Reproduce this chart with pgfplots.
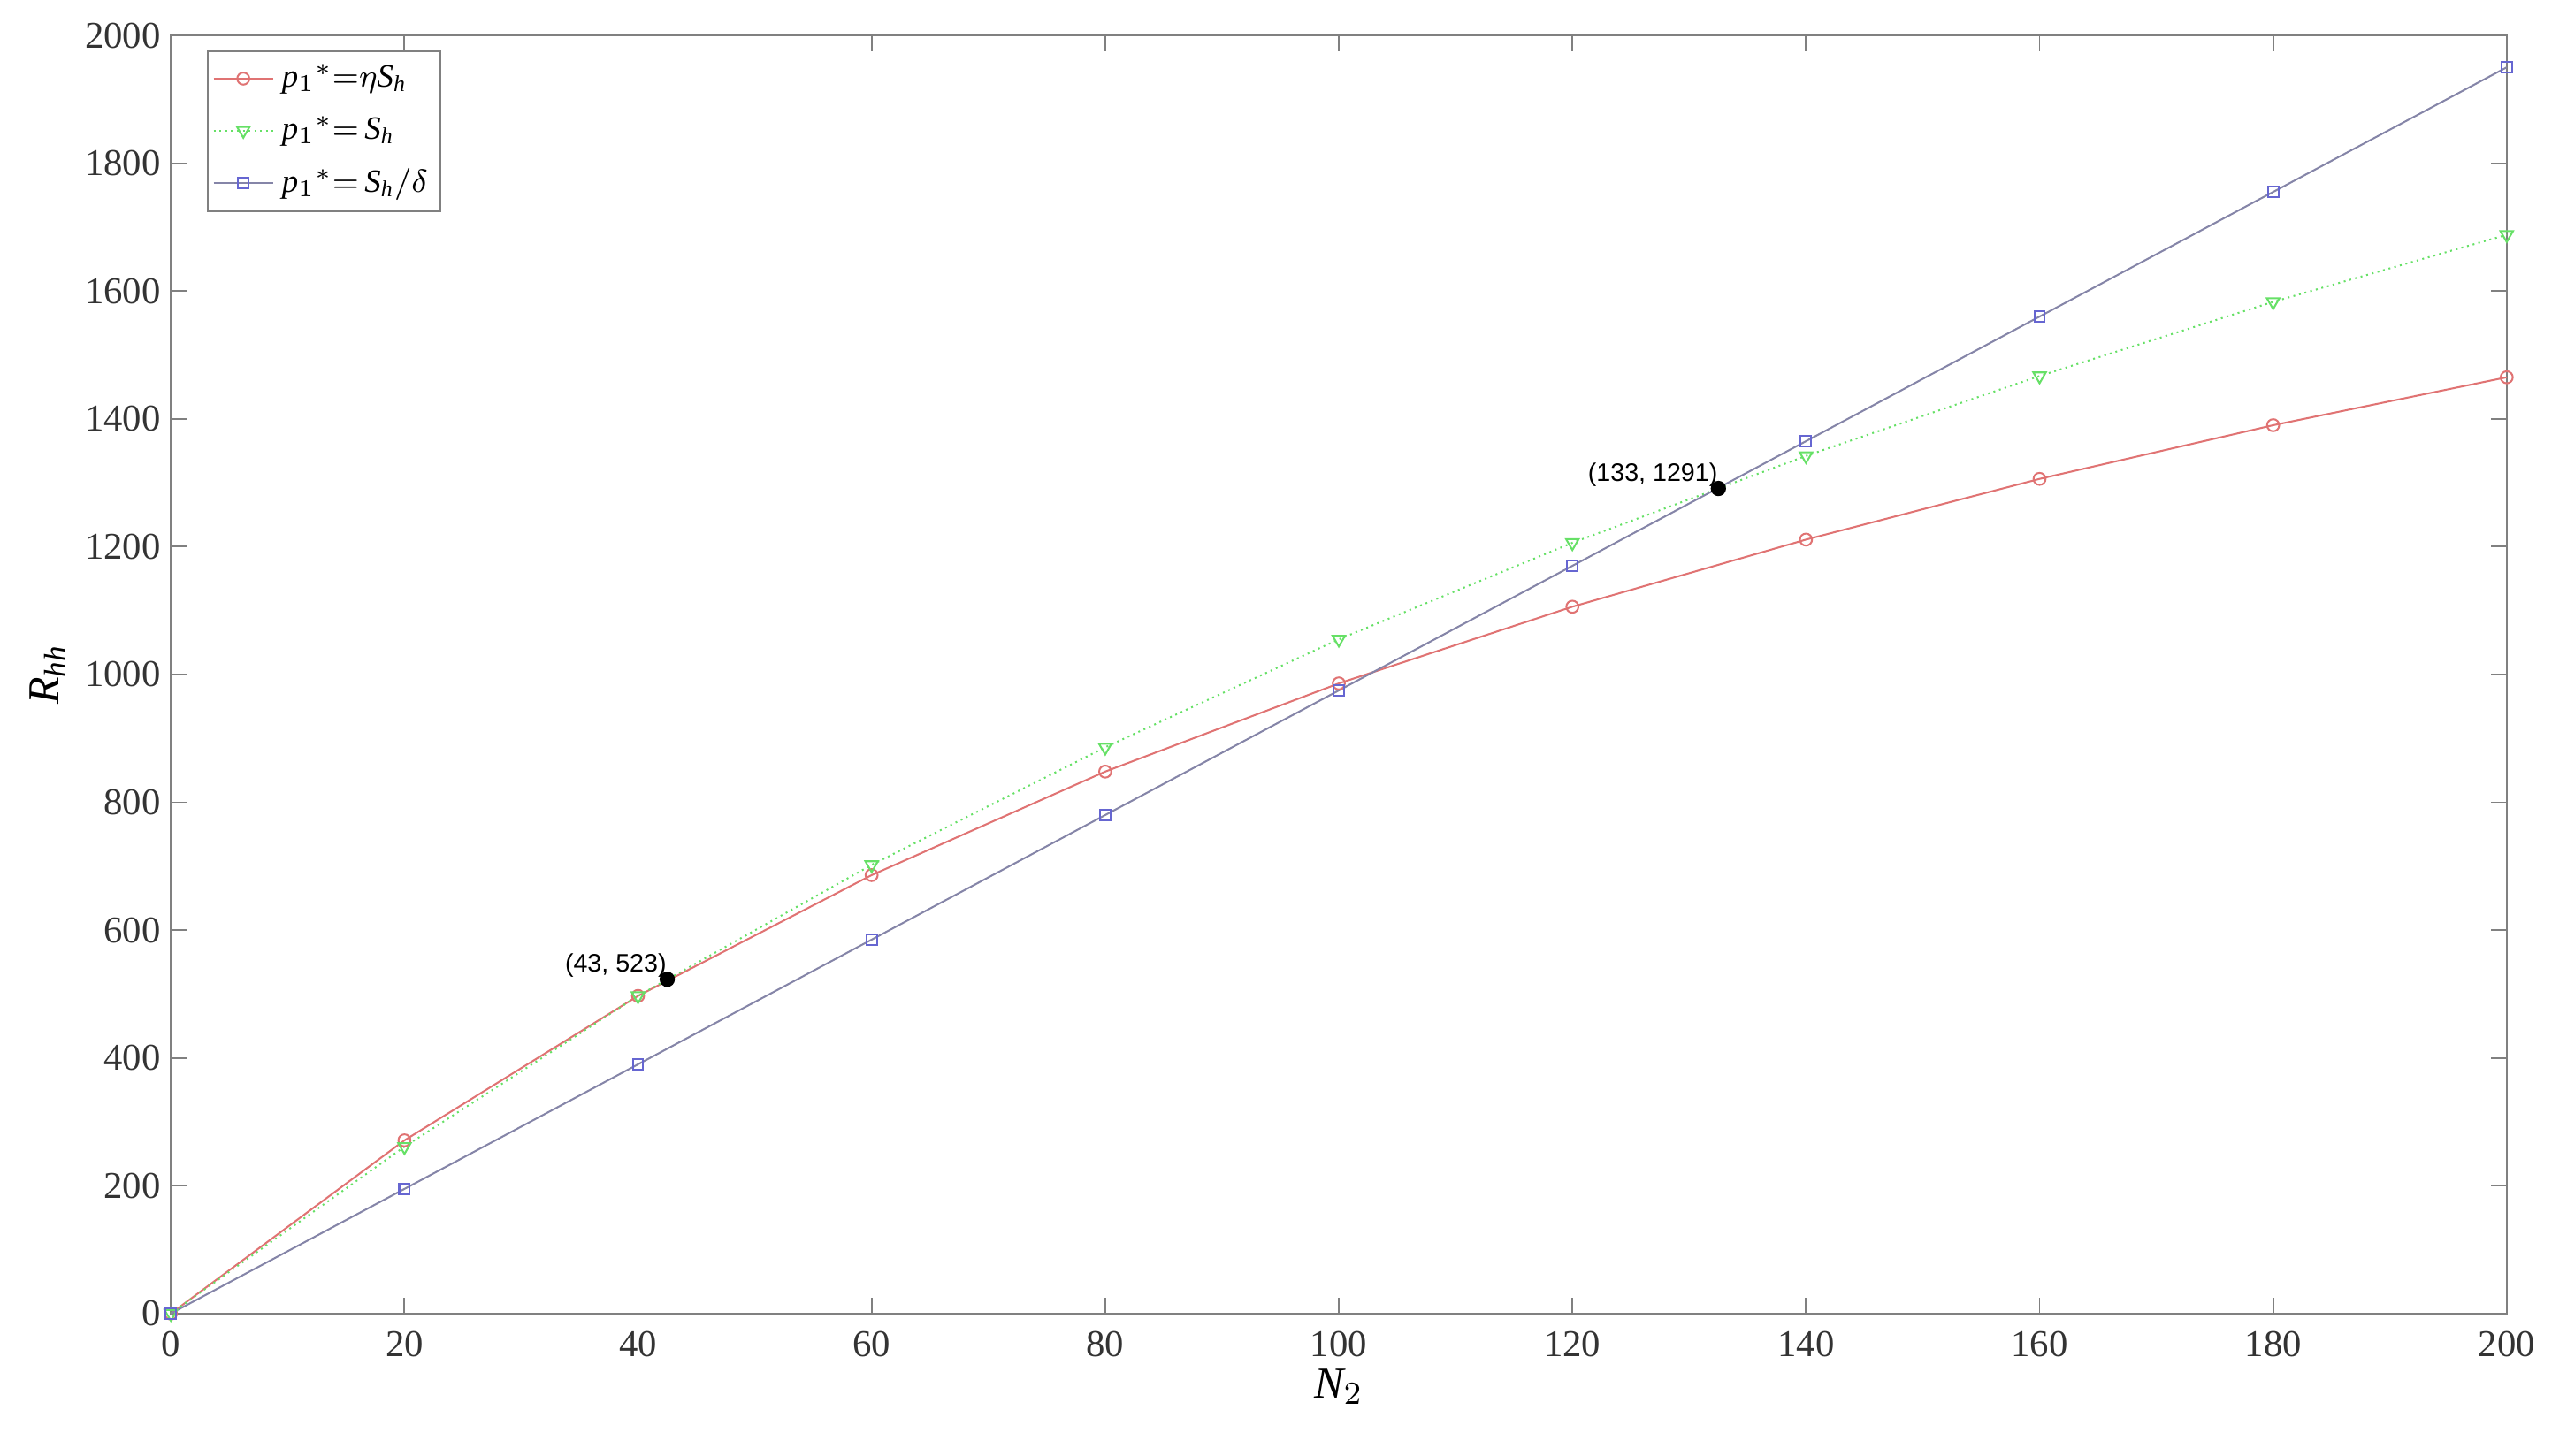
\documentclass[border=0pt]{standalone}
\usepackage{fontspec}
\setmainfont{Liberation Serif}
\newfontfamily\annfont{Liberation Sans}
\usepackage{pgfplots}
\pgfplotsset{compat=1.18}

\definecolor{cRed}{rgb}{0.88,0.45,0.45}
\definecolor{cGreen}{rgb}{0.40,0.88,0.40}
\definecolor{cBlueLine}{rgb}{0.52,0.52,0.66}
\definecolor{cBlueMark}{rgb}{0.40,0.40,0.82}
\definecolor{axgray}{rgb}{0.5,0.5,0.5}

\begin{document}
\begin{tikzpicture}
\begin{axis}[
    scale only axis,
    width=581pt, height=318pt,
    xmin=0, xmax=200, ymin=0, ymax=2000,
    xtick={0,20,...,200},
    ytick={0,200,...,2000},
    tick align=inside,
    major tick length=4pt,
    axis line style={axgray},
    every tick/.style={axgray},
    tick label style={font=\fontsize{9.4}{11}\selectfont, black!80},
    /pgf/number format/assume math mode=true,
    /pgf/number format/1000 sep={},
    yticklabel style={xshift=1pt},
    xticklabel style={yshift=-1pt},
    xlabel={$\mathit{N}_{2}$},
    ylabel={$\mathit{R}_{\mathit{hh}}$},
    label style={font=\fontsize{11}{13}\selectfont},
    xlabel style={yshift=4pt},
    ylabel style={yshift=-2pt},
    clip=false,
    legend style={at={(rel axis cs:0,1)}, anchor=north west,
        xshift=9pt, yshift=-3.8pt,
        draw=axgray, font=\fontsize{8.1}{9.5}\selectfont,
        row sep=1.8pt, inner xsep=1.2pt, inner ysep=1.2pt},
    legend cell align=left,
    legend image code/.code={
        \draw[mark repeat=2,mark phase=2,#1] plot coordinates {(0cm,0cm) (0.26cm,0cm) (0.52cm,0cm)};},
]

\addplot[cRed, line width=0.45pt, mark=o, mark size=1.5pt,
    mark options={solid, line width=0.45pt}] coordinates {
    (0,0) (20,271) (40,497) (60,686) (80,848) (100,986)
    (120,1106) (140,1211) (160,1306) (180,1390) (200,1465)
};
\addlegendentry{$\mathit{p}_{1}{}^{*}{=}\eta \mathit{S}_{\mathit{h}}$}

\addplot[cGreen, line width=0.45pt, densely dotted, mark=triangle, mark size=1.8pt,
    mark options={solid, rotate=180, line width=0.45pt}] coordinates {
    (0,0) (20,261) (40,497) (60,702) (80,886) (100,1055)
    (120,1206) (140,1342) (160,1467) (180,1583) (200,1688)
};
\addlegendentry{$\mathit{p}_{1}{}^{*}{=}\,\mathit{S}_{\mathit{h}}$}

\addplot[cBlueLine, line width=0.45pt, mark=square, mark size=1.3pt,
    mark options={solid, draw=cBlueMark, line width=0.45pt}] coordinates {
    (0,0) (20,195) (40,390) (60,585) (80,780) (100,975)
    (120,1170) (140,1365) (160,1560) (180,1755) (200,1950)
};
\addlegendentry{$\mathit{p}_{1}{}^{*}{=}\,\mathit{S}_{\mathit{h}}/\delta$}

\addplot[only marks, mark=*, mark size=1.7pt, black, forget plot] coordinates {
    (42.5,523) (132.5,1291)
};
\node[anchor=south east, inner sep=0pt, font=\annfont\fontsize{6.3}{7}\selectfont, yshift=0.3pt]
    at (axis cs:42.5,523) {(43, 523)};
\node[anchor=south east, inner sep=0pt, font=\annfont\fontsize{6.3}{7}\selectfont, yshift=0.3pt]
    at (axis cs:132.5,1291) {(133, 1291)};
\end{axis}
\pgfresetboundingbox
\path (current axis.south west) ++(-42.5pt,-35.4pt) coordinate (bl);
\path (current axis.north east) ++(15pt,8.8pt) coordinate (tr);
\path[use as bounding box] (bl) rectangle (tr);
\end{tikzpicture}
\end{document}
